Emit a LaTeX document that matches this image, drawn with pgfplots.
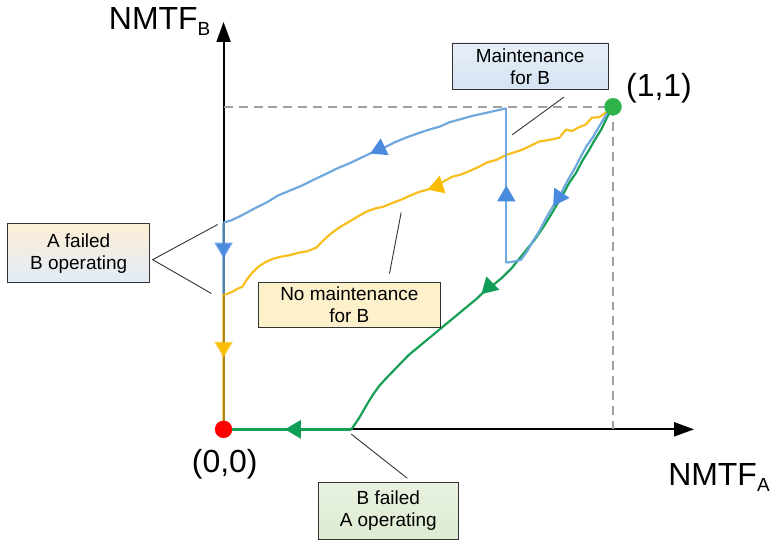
\documentclass[border=0pt]{standalone}
\usepackage{pgfplots}
\pgfplotsset{compat=1.18}
\usepackage{fontspec}
\setmainfont{Liberation Sans}
\usetikzlibrary{arrows.meta,decorations.markings}
\definecolor{cblue}{HTML}{6FA8DC}
\definecolor{cblueA}{HTML}{4A8BE0}
\definecolor{cyel}{HTML}{F6BE1E}
\definecolor{cyelA}{HTML}{FBBC04}
\definecolor{cgreen}{HTML}{179F55}
\definecolor{cgreenA}{HTML}{0F9D58}
\definecolor{cdot}{HTML}{2DB34A}
\definecolor{dgray}{HTML}{A0A0A0}
\definecolor{mtop}{HTML}{E8EFF8}
\definecolor{mbot}{HTML}{D4E2F3}
\definecolor{atop}{HTML}{FDEFD6}
\definecolor{abot}{HTML}{E2EBF8}
\definecolor{nfill}{HTML}{FDF1CC}
\definecolor{btop}{HTML}{E8F2E0}
\definecolor{bbot}{HTML}{DDEBD2}
\tikzset{midarrow/.style 2 args={postaction={decorate}, decoration={markings, mark=at position #1 with {\arrow{Triangle[length=16pt,width=18pt,color=#2]}}}},
  callout/.style={draw=black!80, line width=0.9pt, align=center, font=\fontsize{19}{22}\selectfont}}
\begin{document}
\begin{tikzpicture}
\begin{axis}[x=390pt, y=323pt, xmin=0, xmax=1.208, ymin=0, ymax=1.263,
  axis lines=left, axis line style={line width=2pt, -{Triangle[length=20pt,width=14pt]}},
  xtick=\empty, ytick=\empty, clip=false]
\path (axis cs:-0.574,-0.344) rectangle (axis cs:1.408,1.331);
% dashed guides
\addplot[dgray, line width=2.2pt, dash pattern=on 9pt off 6pt] coordinates {(0,1) (1,1) (1,0)};
% yellow
\addplot[cyel, line width=2.2pt, midarrow={0.47}{cyelA}] coordinates {
(1,1) (0.985,0.985) (0.965,0.968) (0.946,0.966) (0.93,0.945) (0.91,0.935) (0.895,0.925) (0.879,0.929) (0.862,0.904) (0.84,0.898) (0.81,0.892) (0.79,0.88) (0.767,0.867) (0.745,0.858) (0.726,0.851) (0.70,0.835) (0.678,0.828) (0.656,0.814) (0.63,0.80) (0.61,0.79) (0.587,0.783) (0.56,0.765) (0.54,0.75) (0.52,0.742) (0.50,0.735) (0.48,0.725) (0.456,0.712) (0.43,0.70) (0.41,0.69) (0.39,0.685) (0.367,0.675) (0.345,0.66) (0.323,0.644) (0.30,0.628) (0.279,0.61) (0.26,0.59) (0.238,0.563) (0.215,0.552) (0.195,0.548) (0.17,0.54) (0.151,0.536) (0.13,0.53) (0.110,0.52) (0.09,0.505) (0.074,0.486) (0.06,0.465) (0.049,0.443) (0.035,0.435) (0.023,0.427) (0.01,0.42) (0,0.418)};
\addplot[cyel, line width=2.6pt, draw opacity=0.7, midarrow={0.47}{cyelA}] coordinates {(0,0.418) (0,0)};
% green
\addplot[cgreen, line width=2.2pt, midarrow={0.55}{cgreenA}] coordinates {
(1,1) (0.985,0.968) (0.97,0.93) (0.952,0.895) (0.938,0.865) (0.92,0.83) (0.905,0.795) (0.888,0.765) (0.87,0.725) (0.855,0.695) (0.838,0.66) (0.82,0.625) (0.80,0.59) (0.78,0.56) (0.76,0.53) (0.74,0.50) (0.715,0.47) (0.695,0.45) (0.674,0.433) (0.65,0.405) (0.625,0.38) (0.60,0.355) (0.575,0.33) (0.55,0.305) (0.525,0.28) (0.50,0.255) (0.475,0.23) (0.455,0.205) (0.435,0.18) (0.415,0.155) (0.40,0.135) (0.385,0.11) (0.372,0.085) (0.36,0.06) (0.348,0.035) (0.335,0.012) (0.328,0)};
\addplot[cgreen, line width=3pt, midarrow={0.52}{cgreenA}] coordinates {(0.328,0) (0,0)};
% blue
\addplot[cblue, line width=2.2pt, midarrow={0.6}{cblueA}] coordinates {
(1,1) (0.982,0.975) (0.965,0.94) (0.948,0.905) (0.931,0.876) (0.915,0.84) (0.90,0.805) (0.885,0.775) (0.862,0.721) (0.845,0.69) (0.828,0.655) (0.81,0.613) (0.795,0.585) (0.78,0.553) (0.764,0.526) (0.745,0.52) (0.726,0.517)};
\addplot[cblue, line width=2.2pt, midarrow={0.5}{cblueA}] coordinates {(0.726,0.517) (0.726,0.995)};
\addplot[cblue, line width=2.2pt, midarrow={0.47}{cblueA}] coordinates {
(0.726,0.995) (0.70,0.988) (0.67,0.98) (0.64,0.972) (0.61,0.962) (0.58,0.952) (0.554,0.938) (0.53,0.93) (0.50,0.918) (0.47,0.905) (0.44,0.89) (0.41,0.872) (0.38,0.857) (0.35,0.84) (0.32,0.823) (0.29,0.808) (0.26,0.79) (0.23,0.773) (0.20,0.755) (0.17,0.74) (0.14,0.725) (0.11,0.703) (0.08,0.685) (0.06,0.672) (0.041,0.66) (0.02,0.648) (0,0.641)};
\addplot[cblue, line width=2.6pt, draw opacity=0.75, midarrow={0.5}{cblueA}] coordinates {(0,0.641) (0,0.418)};
% endpoints
\addplot[only marks, mark=*, mark size=8.5pt, color=red] coordinates {(0,0)};
\addplot[only marks, mark=*, mark size=8.5pt, color=cdot] coordinates {(1,1)};
% labels
\node[font=\fontsize{32}{36}\selectfont] at (axis cs:-0.164,1.263) {NMTF\raisebox{-6pt}{\fontsize{19}{20}\selectfont B}};
\node[font=\fontsize{32}{36}\selectfont] at (axis cs:1.272,-0.149) {NMTF\raisebox{-6pt}{\fontsize{19}{20}\selectfont A}};
\node[font=\fontsize{32}{36}\selectfont] at (axis cs:1.118,1.059) {(1,1)};
\node[font=\fontsize{32}{36}\selectfont] at (axis cs:0.003,-0.108) {(0,0)};
% leader lines
\draw[black!80, line width=0.9pt] (axis cs:0.874,1.03) -- (axis cs:0.741,0.913);
\draw[black!80, line width=0.9pt] (axis cs:-0.015,0.635) -- (axis cs:-0.182,0.526) -- (axis cs:-0.031,0.421);
\draw[black!80, line width=0.9pt] (axis cs:0.456,0.672) -- (axis cs:0.426,0.483);
\draw[black!80, line width=0.9pt] (axis cs:0.328,-0.015) -- (axis cs:0.472,-0.152);
% boxes
\node[callout, top color=mtop, bottom color=mbot, minimum width=156pt, minimum height=47pt] at (axis cs:0.787,1.125) {Maintenance\\for B};
\node[callout, top color=atop, bottom color=abot, minimum width=142pt, minimum height=59pt] at (axis cs:-0.372,0.546) {A failed\\B operating};
\node[callout, fill=nfill, minimum width=182pt, minimum height=45pt] at (axis cs:0.323,0.385) {No maintenance\\for B};
\node[callout, top color=btop, bottom color=bbot, minimum width=140pt, minimum height=57pt] at (axis cs:0.423,-0.252) {B failed\\A operating};
\end{axis}
\end{tikzpicture}
\end{document}
